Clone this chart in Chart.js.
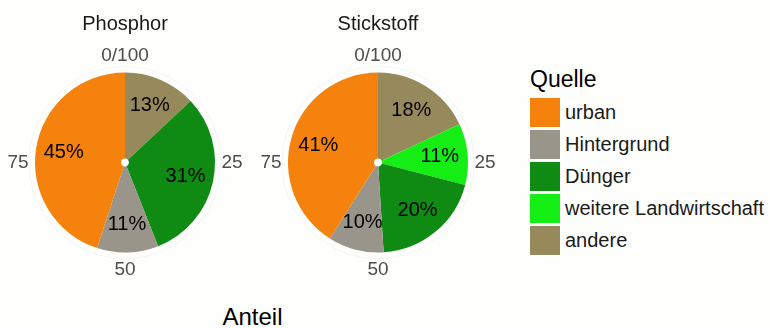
<!DOCTYPE html>
<html lang="de">
<head>
<meta charset="UTF-8">
<title>Quellen von Phosphor und Stickstoff</title>
<script src="https://cdn.jsdelivr.net/npm/chart.js"></script>
<style>
  body { margin: 0; background: #fff; font-family: "Liberation Sans", Arial, sans-serif; }
  #wrap { position: relative; width: 770px; height: 328px; overflow: hidden; background: #fefefd; }
  .facet { position: absolute; top: 0; width: 252px; height: 300px; }
  #legend { position: absolute; left: 530px; top: 66px; }
  #legend h3 { margin: 0 0 4px 0; font-weight: normal; font-size: 23px; line-height: 26px; color: #000; }
  .key { display: flex; align-items: center; height: 32px; }
  .key .sw { width: 30px; height: 29px; margin-right: 5px; }
  .key .lb { font-size: 20px; color: #1a1a1a; }
  #xtitle { position: absolute; left: 0; width: 505px; top: 304px; text-align: center; font-size: 24px; line-height: 26px; color: #000; }
</style>
</head>
<body>
<div id="wrap">
  <canvas id="c0" class="facet" width="252" height="300" style="left:0"></canvas>
  <canvas id="c1" class="facet" width="252" height="300" style="left:253px"></canvas>
  <div id="legend"><h3>Quelle</h3></div>
  <div id="xtitle">Anteil</div>
</div>

<script>
// data, slice order clockwise from the top
const categories = ['andere', 'weitere Landwirtschaft', 'Dünger', 'Hintergrund', 'urban'];
const facets = ['Phosphor', 'Stickstoff'];
const phosphor = [13, 0, 31, 11, 45];
const stickstoff = [18, 11, 20, 10, 41];
const tickValues = [0, 25, 50, 75];
const tickLabels = ['0/100', '25', '50', '75'];

const colors = ['#968a5c', '#14ee14', '#0f8a12', '#99958a', '#f5820c'];
const FONT = '"Liberation Sans", Arial, sans-serif';

// labels, polar ticks and facet title drawn around the pie
const facetPlugin = {
  id: 'facet',
  afterDatasetsDraw(chart, args, opts) {
    const ctx = chart.ctx;
    const meta = chart.getDatasetMeta(0);
    const values = chart.data.datasets[0].data;
    const {x, y, outerRadius} = meta.data[0].getProps(['x', 'y', 'outerRadius'], true);
    ctx.save();
    ctx.textAlign = 'center';
    ctx.textBaseline = 'middle';

    // faint panel ring
    ctx.strokeStyle = '#f4f4f2';
    ctx.lineWidth = 1;
    ctx.beginPath();
    ctx.arc(x, y, outerRadius + 6, 0, 2 * Math.PI);
    ctx.stroke();

    ctx.font = '20px ' + FONT;
    ctx.fillStyle = '#000';
    meta.data.forEach((arc, i) => {
      if (!values[i]) return;
      const p = arc.getProps(['startAngle', 'endAngle'], true);
      const a = (p.startAngle + p.endAngle) / 2;
      const r = outerRadius * 0.69;
      ctx.fillText(values[i] + '%', x + Math.cos(a) * r, y + Math.sin(a) * r);
    });

    ctx.font = '19px ' + FONT;
    ctx.fillStyle = '#4d4d4d';
    tickValues.forEach((t, i) => {
      const a = -Math.PI / 2 + t / 100 * 2 * Math.PI;
      const r = outerRadius + 17;
      ctx.fillText(tickLabels[i], x + Math.cos(a) * r, y + Math.sin(a) * r);
    });

    ctx.font = '20px ' + FONT;
    ctx.fillStyle = '#1a1a1a';
    ctx.fillText(opts.title, x, y - outerRadius - 48);
    ctx.restore();
  }
};

function makePie(id, title, values) {
  return new Chart(document.getElementById(id), {
    type: 'pie',
    data: {
      labels: categories,
      datasets: [{ data: values, backgroundColor: colors, borderWidth: 0 }]
    },
    options: {
      responsive: false,
      animation: false,
      cutout: 4,
      layout: { padding: { left: 35, right: 37, top: 72, bottom: 47 } },
      plugins: {
        legend: { display: false },
        tooltip: { enabled: false },
        facet: { title: title }
      }
    },
    plugins: [facetPlugin]
  });
}

makePie('c0', facets[0], phosphor);
makePie('c1', facets[1], stickstoff);

// legend, reverse of slice order
const legend = document.getElementById('legend');
for (let i = categories.length - 1; i >= 0; i--) {
  const row = document.createElement('div');
  row.className = 'key';
  row.innerHTML = `<span class="sw" style="background:${colors[i]}"></span><span class="lb">${categories[i]}</span>`;
  legend.appendChild(row);
}
</script>
</body>
</html>
